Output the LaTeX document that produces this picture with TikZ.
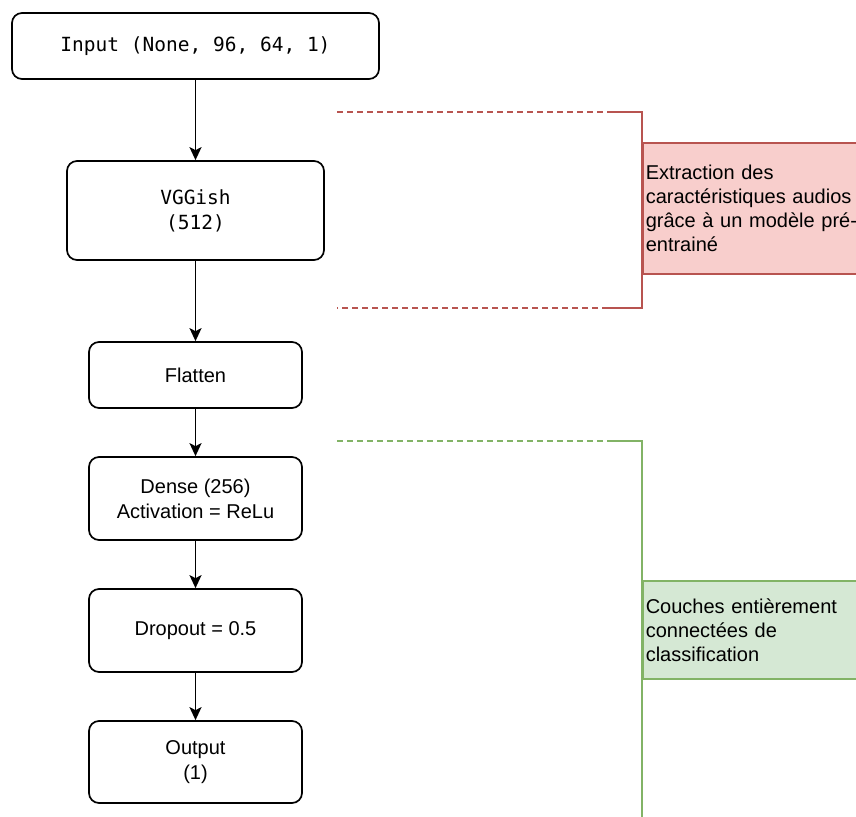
\documentclass[tikz,border=0pt]{standalone}
\usepackage{fontspec}
\setmainfont{Liberation Sans}
\setmonofont{DejaVu Sans Mono}
\usetikzlibrary{arrows.meta}
\definecolor{redfill}{HTML}{F8CECC}
\definecolor{redline}{HTML}{B85450}
\definecolor{greenfill}{HTML}{D5E8D4}
\definecolor{greenline}{HTML}{82B366}
\begin{document}
\begin{tikzpicture}[x=1pt,y=-1pt,
    layer/.style={draw,line width=1.7pt,rounded corners=10pt,align=center,
        minimum width=213pt,font=\fontsize{20}{25}\selectfont},
    monolayer/.style={layer,font=\ttfamily\fontsize{19.5}{25}\selectfont},
    flow/.style={-{Stealth[length=13pt,width=12pt,inset=3pt]},line width=1.7pt},
    note/.style={anchor=west,align=left,text width=230pt,inner xsep=3pt,
        font=\fontsize{20}{24}\selectfont,line width=1.5pt},
    brace/.style={line width=1.5pt},
    dashpart/.style={brace,dash pattern=on 6pt off 4pt}]
    \useasboundingbox (0,0) rectangle (856,816);
    \clip (0,0) rectangle (856,816);

    % Schichten
    \node[monolayer,minimum width=367pt,minimum height=66pt] (input) at (195.5,46) {Input (None, 96, 64, 1)};
    \node[monolayer,minimum width=257pt,minimum height=99pt] (vggish) at (195.5,210.5) {VGGish\\(512)};
    \node[layer,minimum height=66pt] (flatten) at (195.5,375) {Flatten};
    \node[layer,minimum height=83pt] (dense) at (195.5,498.5) {Dense (256)\\Activation = ReLu};
    \node[layer,minimum height=83pt] (dropout) at (195.5,630.5) {Dropout = 0.5};
    \node[layer,minimum height=82pt] (output) at (195.5,762) {Output\\(1)};

    \draw[flow] (input) -- (vggish);
    \draw[flow] (vggish) -- (flatten);
    \draw[flow] (flatten) -- (dense);
    \draw[flow] (dense) -- (dropout);
    \draw[flow] (dropout) -- (output); % Pfeile

    % Klammer oben
    \coordinate (ra) at (337,112);
    \coordinate (rb) at (608,112);
    \coordinate (rc) at (642,112);
    \coordinate (rd) at (642,308);
    \coordinate (re) at (608,308);
    \coordinate (rf) at (337,308);
    \node[note,fill=redfill,draw=redline,minimum height=131pt] (featnote) at (642,208.5)
        {Extraction des\\caractéristiques audios\\grâce à un modèle pré-\\entrainé};
    \draw[dashpart,redline] (ra) -- (rb);
    \draw[brace,redline] (rb) -- (rc) -- (rd) -- (re);
    \draw[dashpart,redline] (re) -- (rf);

    % Klammer unten
    \coordinate (ga) at (337,441);
    \coordinate (gb) at (608,441);
    \coordinate (gc) at (642,441);
    \coordinate (gd) at (642,830);
    \node[note,fill=greenfill,draw=greenline,minimum height=98pt] (densenote) at (642,630)
        {Couches entièrement\\connectées de\\classification};
    \draw[dashpart,greenline] (ga) -- (gb);
    \draw[brace,greenline] (gb) -- (gc) -- (gd);
\end{tikzpicture}
\end{document}
